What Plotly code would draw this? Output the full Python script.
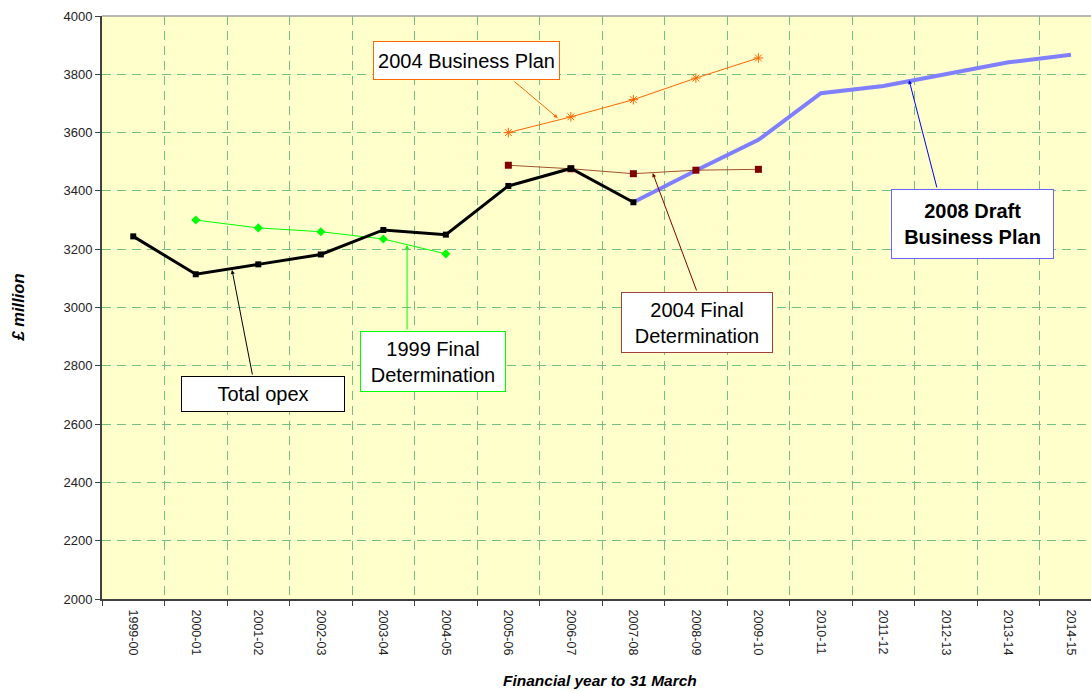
import plotly.graph_objects as go

# Financial years on the category axis
years = ["1999-00", "2000-01", "2001-02", "2002-03", "2003-04", "2004-05", "2005-06",
         "2006-07", "2007-08", "2008-09", "2009-10", "2010-11", "2011-12", "2012-13",
         "2013-14", "2014-15"]

# Operating expenditure series, £ million (None = no value for that year)
total_opex = [3244, 3114, 3148, 3182, 3266, 3250, 3417, 3477, 3361,
              None, None, None, None, None, None, None]
fd_1999 = [None, 3300, 3273, 3260, 3235, 3184, None, None, None,
           None, None, None, None, None, None, None]
bp_2004 = [None, None, None, None, None, None, 3600, 3654, 3713, 3787, 3856,
           None, None, None, None, None]
fd_2004 = [None, None, None, None, None, None, 3488, 3476, 3459, 3471, 3474,
           None, None, None, None, None]
draft_bp_2008 = [None, None, None, None, None, None, None, None, 3361, 3470, 3575,
                 3735, 3760, 3801, 3841, 3867]

y_ticks = list(range(2000, 4001, 200))

FONT = "Liberation Sans, Arial, sans-serif"
GRID = "#74BF86"
DASH = "9px,6px"

fig = go.Figure()

fig.add_trace(go.Scatter(x=years, y=draft_bp_2008, mode="lines",
                         line=dict(color="#8080FF", width=4), name="2008 Draft Business Plan"))
fig.add_trace(go.Scatter(x=years, y=fd_1999, mode="lines+markers",
                         line=dict(color="#00FF00", width=1),
                         marker=dict(symbol="diamond", size=7, color="#00FF00"),
                         name="1999 Final Determination"))
fig.add_trace(go.Scatter(x=years, y=bp_2004, mode="lines+markers",
                         line=dict(color="#FF6600", width=1),
                         marker=dict(symbol="asterisk-open", size=8,
                                     line=dict(color="#FF6600", width=1)),
                         name="2004 Business Plan"))
fig.add_trace(go.Scatter(x=years, y=fd_2004, mode="lines+markers",
                         line=dict(color="#A0522D", width=1),
                         marker=dict(symbol="square", size=7, color="#800000"),
                         name="2004 Final Determination"))
fig.add_trace(go.Scatter(x=years, y=total_opex, mode="lines+markers",
                         line=dict(color="#000000", width=3),
                         marker=dict(symbol="square", size=6, color="#000000"),
                         name="Total opex"))

# Callout boxes: (text, x, y, width, height, border colour, bold)
callouts = [
    ("2004 Business Plan", 5.33, 3847, 187, 39, "#FF6600", False),
    ("2004 Final<br>Determination", 9.02, 2949, 152, 61, "#A04040", False),
    ("2008 Draft<br>Business Plan", 13.42, 3286, 163, 70, "#6666FF", True),
    ("1999 Final<br>Determination", 4.79, 2815, 146, 61, "#00FF00", False),
    ("Total opex", 2.07, 2703, 164, 36, "#000000", False),
]
# Leader arrows: (tail x, tail y, head x, head y, colour)
leaders = [
    (6.07, 3780, 6.79, 3650, "#FF6600"),
    (9.02, 3053, 8.31, 3461, "#800000"),
    (12.86, 3407, 12.41, 3780, "#0000FF"),
    (4.38, 2919, 4.38, 3214, "#00FF00"),
    (1.91, 2765, 1.58, 3129, "#000000"),
]

annotations = []
for tx, ty, hx, hy, col in leaders:
    annotations.append(dict(x=hx, y=hy, ax=tx, ay=ty, xref="x", yref="y",
                            axref="x", ayref="y", text="", showarrow=True,
                            arrowhead=2, arrowsize=0.8, arrowwidth=1,
                            arrowcolor=col, standoff=0, startstandoff=0))
for text, x, y, w, h, col, bold in callouts:
    annotations.append(dict(x=x, y=y, xref="x", yref="y", showarrow=False,
                            text=f"<b>{text}</b>" if bold else text,
                            width=w - 2, height=h - 2, borderpad=0,
                            bgcolor="white", bordercolor=col, borderwidth=1,
                            font=dict(family=FONT, size=20, color="black"),
                            xanchor="center", yanchor="middle", align="center"))

# Axis titles
annotations.append(dict(text="<b><i>£ million</i></b>", xref="paper", yref="paper",
                        x=-0.085, y=0.5, xanchor="center", yanchor="middle",
                        showarrow=False, textangle=-90,
                        font=dict(family=FONT, size=16.5, color="black")))
annotations.append(dict(text="<b><i>Financial year to 31 March</i></b>", xref="paper",
                        yref="paper", x=0.504, y=-0.139, xanchor="center",
                        yanchor="middle", showarrow=False,
                        font=dict(family=FONT, size=15.5, color="black")))

fig.update_layout(
    width=1091, height=693,
    margin=dict(l=102, r=0, t=16, b=94),
    paper_bgcolor="white", plot_bgcolor="#FFFFCC",
    showlegend=False,
    font=dict(family=FONT, size=13, color="#222222"),
    annotations=annotations,
    shapes=[dict(type="line", xref="paper", yref="paper", x0=0, x1=1, y0=1, y1=1,
                 line=dict(color="#A0A0A0", width=1.5))],
)

fig.update_xaxes(type="category", categoryorder="array", categoryarray=years,
                 range=[-0.5, 15.32], tickson="boundaries", ticks="outside",
                 ticklen=5, tickcolor="#404040", tickangle=90, ticklabelstandoff=6,
                 tickfont=dict(family=FONT, size=12.5, color="#222222"),
                 showline=True, linecolor="#404040", linewidth=2,
                 showgrid=True, gridcolor=GRID, griddash=DASH, gridwidth=1,
                 zeroline=False)
fig.update_yaxes(range=[2000, 4000], tickvals=y_ticks, ticks="outside", ticklen=5,
                 tickcolor="#404040", tickfont=dict(family=FONT, size=13, color="#222222"),
                 showline=True, linecolor="#404040", linewidth=2,
                 showgrid=True, gridcolor=GRID, griddash=DASH, gridwidth=1,
                 zeroline=False)

fig.write_html("out.html")
